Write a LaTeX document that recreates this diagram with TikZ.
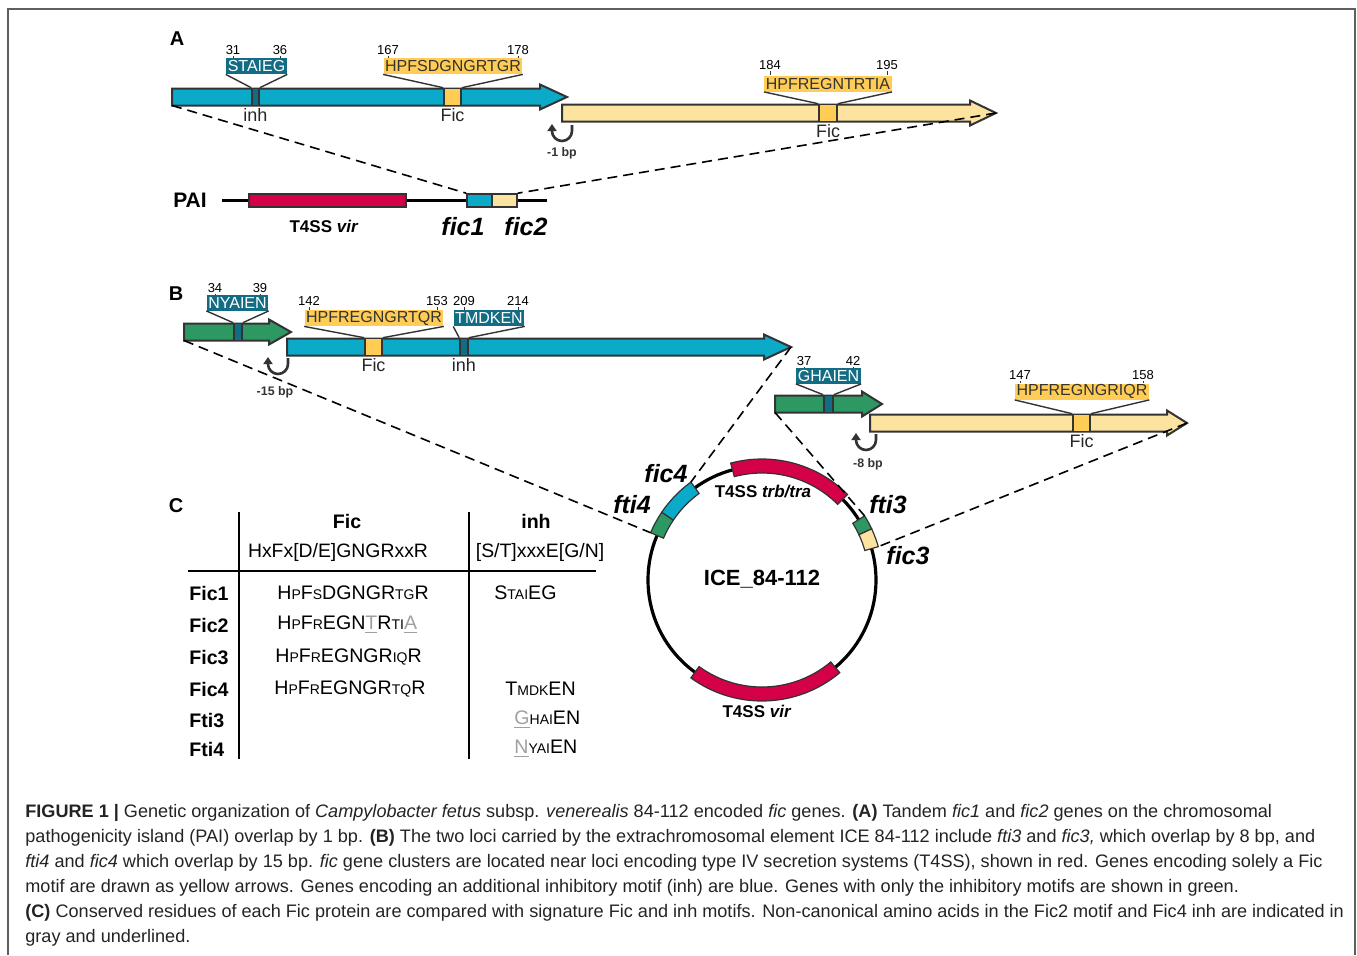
\documentclass[tikz,border=0pt]{standalone}
\usepackage{fontspec}
\setmainfont{Liberation Sans}
\usetikzlibrary{positioning, arrows.meta}

\definecolor{ficblue}{RGB}{12,170,201}
\definecolor{inhteal}{RGB}{18,108,132}
\definecolor{ficyellow}{RGB}{255,204,85}
\definecolor{ficpale}{RGB}{253,227,160}
\definecolor{ftigreen}{RGB}{46,152,98}
\definecolor{t4red}{RGB}{212,0,72}
\definecolor{edgegray}{RGB}{51,51,51}
\definecolor{framegray}{RGB}{95,95,95}
\definecolor{motifgray}{RGB}{160,160,160}
\definecolor{captext}{RGB}{35,35,35}

\newcommand\fsz[1]{\fontsize{#1}{#1}\selectfont}
\newcommand\smc[1]{{\fontsize{7}{7}\selectfont #1}}
\newcommand\noncanon[1]{\textcolor{motifgray}{\underline{#1}}}

% gene arrow: name, fill, left x, head x, tip x, centre y
\newcommand\genearrow[6]{%
  \draw[genebody, fill=#2] (#3,#6-8.5) -- (#4,#6-8.5) -- (#4,#6-12.5) -- (#5,#6)
    -- (#4,#6+12.5) -- (#4,#6+8.5) -- (#3,#6+8.5) -- cycle;
  \coordinate (#1-sw) at (#3,#6+8.5);
  \coordinate (#1-tip) at (#5,#6);}

% gene on the ICE circle: name, from, to, fill
\newcommand\icegene[4]{%
  \draw[edgegray, line width=0.6pt, fill=#4] (#2:107) arc[start angle=#2, end angle=#3, radius=107]
    -- (#3:121) arc[start angle=#3, end angle=#2, radius=121] -- cycle;
  \coordinate (#1-a) at (#2:121);
  \coordinate (#1-b) at (#3:121);}

\tikzset{
  genebody/.style={draw=edgegray, line width=1pt, line join=miter},
  motifbox/.style={draw=edgegray, line width=0.8pt, minimum height=8.5pt, inner sep=0pt},
  motiftag/.style={inner xsep=0.8pt, inner ysep=0pt, minimum height=8pt, font=\fsz{8}},
  inhtag/.style={motiftag, fill=inhteal, text=white},
  fictag/.style={motiftag, fill=ficyellow, text=edgegray},
  resnum/.style={font=\fsz{6.5}, inner sep=0.5pt},
  leadline/.style={line width=0.7pt, draw=edgegray},
  tickline/.style={line width=0.4pt, draw=edgegray},
  sitelbl/.style={font=\fsz{9}, inner sep=0.3pt, text=black!85},
  overlapmark/.style={line width=1.3pt, draw=edgegray, -{Triangle[length=3.5pt,width=4.5pt]}},
  bplbl/.style={font=\bfseries\fsz{6.2}, text=edgegray},
  zoomline/.style={line width=0.8pt, dash pattern=on 5pt off 3pt},
  genename/.style={font=\bfseries\itshape\fsz{12.5}},
  locuslbl/.style={font=\bfseries\fsz{8.5}},
  paibox/.style={draw=edgegray, line width=0.8pt, minimum height=6.5pt, inner sep=0pt},
  panellabel/.style={font=\bfseries\fsz{10}},
  tablerule/.style={line width=1pt},
  tablehead/.style={font=\bfseries\fsz{9.8}},
  tabletext/.style={font=\fsz{9.7}},
  rowhead/.style={font=\bfseries\fsz{9.8}, anchor=west, inner sep=0pt},
  motiftext/.style={font=\fsz{9.8}, anchor=west, inner sep=0pt},
  captionline/.style={anchor=base west, inner sep=0pt, font=\fsz{9.05}, text=captext},
}

\begin{document}
\begin{tikzpicture}[x=0.5pt, y=-0.5pt]
  \useasboundingbox (0,0) rectangle (1357,955);
  \draw[framegray, line width=1pt] (8,955) -- (8,9) -- (1355,9) -- (1355,955);

  % ---- A ----
  \node[panellabel] (labA) at (177,39) {A};
  \genearrow{fic1arr}{ficblue}{172}{540}{567}{97}
  \node[motifbox, fill=inhteal, minimum width=3.5pt] (fic1inh) at (255.5,97) {};
  \node[motifbox, fill=ficyellow, minimum width=8.5pt] (fic1fic) at (452.5,97) {};
  \node[inhtag] (tagSTAIEG) at (256.5,66) {STAIEG};
  \node[fictag] (tagHPFSD) at (453,66) {HPFSDGNGRTGR};
  \draw[leadline] (tagSTAIEG.south west) -- (fic1inh.north west)
                  (tagSTAIEG.south east) -- (fic1inh.north east);
  \draw[leadline] (tagHPFSD.south west) -- (fic1fic.north west)
                  (tagHPFSD.south east) -- (fic1fic.north east);
  \node[resnum] (n31) at (233,50) {31};
  \node[resnum] (n36) at (280,50) {36};
  \node[resnum] (n167) at (388,50) {167};
  \node[resnum] (n178) at (518,50) {178};
  \draw[tickline] (n31.south) -- (n31.south |- tagSTAIEG.north)
                  (n36.south) -- (n36.south |- tagSTAIEG.north)
                  (n167.south) -- (n167.south |- tagHPFSD.north)
                  (n178.south) -- (n178.south |- tagHPFSD.north);
  \node[sitelbl, below=0.8pt of fic1inh] (lblinh1) {inh};
  \node[sitelbl, below=0.8pt of fic1fic] (lblfic1) {Fic};

  \genearrow{fic2arr}{ficpale}{562}{970}{996}{113}
  \node[motifbox, fill=ficyellow, minimum width=9pt] (fic2fic) at (828,113) {};
  \node[fictag] (tagHPFRT) at (828,83.5) {HPFREGNTRTIA};
  \draw[leadline] (tagHPFRT.south west) -- (fic2fic.north west)
                  (tagHPFRT.south east) -- (fic2fic.north east);
  \node[resnum] (n184) at (770,65) {184};
  \node[resnum] (n195) at (887,65) {195};
  \draw[tickline] (n184.south) -- (n184.south |- tagHPFRT.north)
                  (n195.south) -- (n195.south |- tagHPFRT.north);
  \node[sitelbl, below=0.8pt of fic2fic] (lblfic2) {Fic};
  \draw[overlapmark] (572,125) -- (572,131) arc[start angle=0, end angle=180, radius=10] -- (552,124);
  \node[bplbl] (bp1) at (562,153) {-1 bp};

  % PAI
  \node[font=\bfseries\fsz{10.5}] (pai) at (190,200) {PAI};
  \draw[line width=1.5pt] (222,200.5) -- (547,200.5);
  \node[paibox, fill=t4red, minimum width=78.5pt] (paivir) at (327.5,200.5) {};
  \node[paibox, fill=ficblue, minimum width=12.5pt] (paific1) at (479.5,200.5) {};
  \node[paibox, fill=ficpale, minimum width=12.5pt] (paific2) at (504.5,200.5) {};
  \node[locuslbl] (lblpaivir) at (324,226) {T4SS \textit{vir}};
  \node[genename] (lblpaific1) at (463,227) {fic1};
  \node[genename] (lblpaific2) at (526,227) {fic2};
  \draw[zoomline] (fic1arr-sw) -- (paific1.north west);
  \draw[zoomline] (fic2arr-tip) -- (paific2.north east);

  % ---- B ----
  \node[panellabel] (labB) at (176,294) {B};
  \begin{scope}[shift={(762,580)}, yscale=-1]
    \draw[line width=1.6pt] (0,0) circle[radius=114];
    \icegene{trb}{45}{105}{t4red}
    \icegene{vir}{-126}{-50}{t4red}
    \icegene{fic4}{126}{146}{ficblue}
    \icegene{fti4}{146}{157}{ftigreen}
    \icegene{fti3}{25}{32}{ftigreen}
    \icegene{fic3}{16}{25}{ficpale}
  \end{scope}
  \node[font=\bfseries\fsz{11}] (ice) at (762,579) {ICE\_84-112};
  \node[locuslbl] (lbltrb) at (763,492) {T4SS \textit{trb/tra}};
  \node[locuslbl] (lblvir) at (757,711) {T4SS \textit{vir}};
  \node[genename] (lblfic4) at (666,474) {fic4};
  \node[genename] (lblfti4) at (632,505) {fti4};
  \node[genename] (lblfti3) at (888,505) {fti3};
  \node[genename] (lblfic3) at (908,556) {fic3};

  \genearrow{fti4arr}{ftigreen}{184}{269}{291}{332}
  \genearrow{fic4arr}{ficblue}{287}{764}{791}{347}
  \node[motifbox, fill=inhteal, minimum width=4pt] (fti4inh) at (238,332) {};
  \node[motifbox, fill=ficyellow, minimum width=8.5pt] (fic4fic) at (373.5,347) {};
  \node[motifbox, fill=inhteal, minimum width=4pt] (fic4inh) at (464,347) {};
  \node[inhtag] (tagNYAIEN) at (237.5,302.5) {NYAIEN};
  \node[fictag] (tagHPFRQ) at (374,318) {HPFREGNGRTQR};
  \node[inhtag] (tagTMDKEN) at (489,318) {TMDKEN};
  \draw[leadline] (tagNYAIEN.south west) -- (fti4inh.north west)
                  (tagNYAIEN.south east) -- (fti4inh.north east);
  \draw[leadline] (tagHPFRQ.south west) -- (fic4fic.north west)
                  (tagHPFRQ.south east) -- (fic4fic.north east);
  \draw[leadline] (tagTMDKEN.south west) -- (fic4inh.north west)
                  (tagTMDKEN.south east) -- (fic4inh.north east);
  \node[resnum] (n34) at (215,288) {34};
  \node[resnum] (n39) at (260,288) {39};
  \node[resnum] (n142) at (309,301) {142};
  \node[resnum] (n153) at (437,301) {153};
  \node[resnum] (n209) at (464,301) {209};
  \node[resnum] (n214) at (518,301) {214};
  \draw[tickline] (n34.south) -- (n34.south |- tagNYAIEN.north)
                  (n39.south) -- (n39.south |- tagNYAIEN.north)
                  (n142.south) -- (n142.south |- tagHPFRQ.north)
                  (n153.south) -- (n153.south |- tagHPFRQ.north)
                  (n209.south) -- (n209.south |- tagTMDKEN.north)
                  (n214.south) -- (n214.south |- tagTMDKEN.north);
  \node[sitelbl, below=0.8pt of fic4fic] (lblfic4fic) {Fic};
  \node[sitelbl, below=0.8pt of fic4inh] (lblfic4inh) {inh};
  \draw[overlapmark] (288,358) -- (288,364) arc[start angle=0, end angle=180, radius=10] -- (268,357);
  \node[bplbl] (bp15) at (275,392) {-15 bp};

  \genearrow{fti3arr}{ftigreen}{775}{862}{882}{404}
  \genearrow{fic3arr}{ficpale}{870}{1167}{1187}{423}
  \node[motifbox, fill=inhteal, minimum width=4.5pt] (fti3inh) at (828.5,404) {};
  \node[motifbox, fill=ficyellow, minimum width=8.5pt] (fic3fic) at (1081.5,423) {};
  \node[inhtag] (tagGHAIEN) at (828.5,375.5) {GHAIEN};
  \node[fictag] (tagHPFRI) at (1082,391.5) {HPFREGNGRIQR};
  \draw[leadline] (tagGHAIEN.south west) -- (fti3inh.north west)
                  (tagGHAIEN.south east) -- (fti3inh.north east);
  \draw[leadline] (tagHPFRI.south west) -- (fic3fic.north west)
                  (tagHPFRI.south east) -- (fic3fic.north east);
  \node[resnum] (n37) at (804,361) {37};
  \node[resnum] (n42) at (853,361) {42};
  \node[resnum] (n147) at (1020,375) {147};
  \node[resnum] (n158) at (1143,375) {158};
  \draw[tickline] (n37.south) -- (n37.south |- tagGHAIEN.north)
                  (n42.south) -- (n42.south |- tagGHAIEN.north)
                  (n147.south) -- (n147.south |- tagHPFRI.north)
                  (n158.south) -- (n158.south |- tagHPFRI.north);
  \node[sitelbl, below=0.8pt of fic3fic] (lblfic3fic) {Fic};
  \draw[overlapmark] (876,434) -- (876,440) arc[start angle=0, end angle=180, radius=10] -- (856,433);
  \node[bplbl] (bp8) at (868,464) {-8 bp};

  \draw[zoomline] (fti4arr-sw) -- (fti4-b);
  \draw[zoomline] (fic4arr-tip) -- (fic4-a);
  \draw[zoomline] (fti3arr-sw) -- (fti3-b);
  \draw[zoomline] (fic3arr-tip) -- (fic3-a);

  % ---- C ----
  \node[panellabel] (labC) at (176,506) {C};
  \draw[tablerule] (239,512) -- (239,759);
  \draw[tablerule] (469,512) -- (469,759);
  \draw[tablerule] (188,571) -- (596,571);
  \node[tablehead] (hfic) at (347,521) {Fic};
  \node[tablehead] (hinh) at (536,521) {inh};
  \node[tabletext] (sigfic) at (338,552) {HxFx[D/E]GNGRxxR};
  \node[tabletext] (siginh) at (540,552) {[S/T]xxxE[G/N]};
  \node[rowhead] (rfic1) at (189,593) {Fic1};
  \node[rowhead] (rfic2) at (189,625) {Fic2};
  \node[rowhead] (rfic3) at (189,657) {Fic3};
  \node[rowhead] (rfic4) at (189,689) {Fic4};
  \node[rowhead] (rfti3) at (189,720) {Fti3};
  \node[rowhead] (rfti4) at (189,749) {Fti4};
  \node[motiftext] (mfic1) at (277,593) {H\smc{P}F\smc{S}DGNGR\smc{TG}R};
  \node[motiftext] (mfic2) at (277,625) {H\smc{P}F\smc{R}EGN\noncanon{T}R\smc{TI}\noncanon{A}};
  \node[motiftext] (mfic3) at (275,657) {H\smc{P}F\smc{R}EGNGR\smc{IQ}R};
  \node[motiftext] (mfic4) at (274,689) {H\smc{P}F\smc{R}EGNGR\smc{TQ}R};
  \node[motiftext] (ific1) at (494,593) {S\smc{TAI}EG};
  \node[motiftext] (ific4) at (505,689) {T\smc{MDK}EN};
  \node[motiftext] (ifti3) at (514,720) {\noncanon{G}\smc{HAI}EN};
  \node[motiftext] (ifti4) at (514,749) {\noncanon{N}\smc{YAI}EN};

  % ---- caption ----
  \node[captionline] (cap1) at (25,817) {\textbf{FIGURE 1 |} Genetic organization of \textit{Campylobacter fetus} subsp. \textit{venerealis} 84-112 encoded \textit{fic} genes. \textbf{(A)} Tandem \textit{fic1} and \textit{fic2} genes on the chromosomal};
  \node[captionline] (cap2) at (25,842) {pathogenicity island (PAI) overlap by 1 bp. \textbf{(B)} The two loci carried by the extrachromosomal element ICE 84-112 include \textit{fti3} and \textit{fic3,} which overlap by 8 bp, and};
  \node[captionline] (cap3) at (25,867) {\textit{fti4} and \textit{fic4} which overlap by 15 bp. \textit{fic} gene clusters are located near loci encoding type IV secretion systems (T4SS), shown in red. Genes encoding solely a Fic};
  \node[captionline] (cap4) at (25,892) {motif are drawn as yellow arrows. Genes encoding an additional inhibitory motif (inh) are blue. Genes with only the inhibitory motifs are shown in green.};
  \node[captionline] (cap5) at (25,917) {\textbf{(C)} Conserved residues of each Fic protein are compared with signature Fic and inh motifs. Non-canonical amino acids in the Fic2 motif and Fic4 inh are indicated in};
  \node[captionline] (cap6) at (25,942) {gray and underlined.};
\end{tikzpicture}
\end{document}
